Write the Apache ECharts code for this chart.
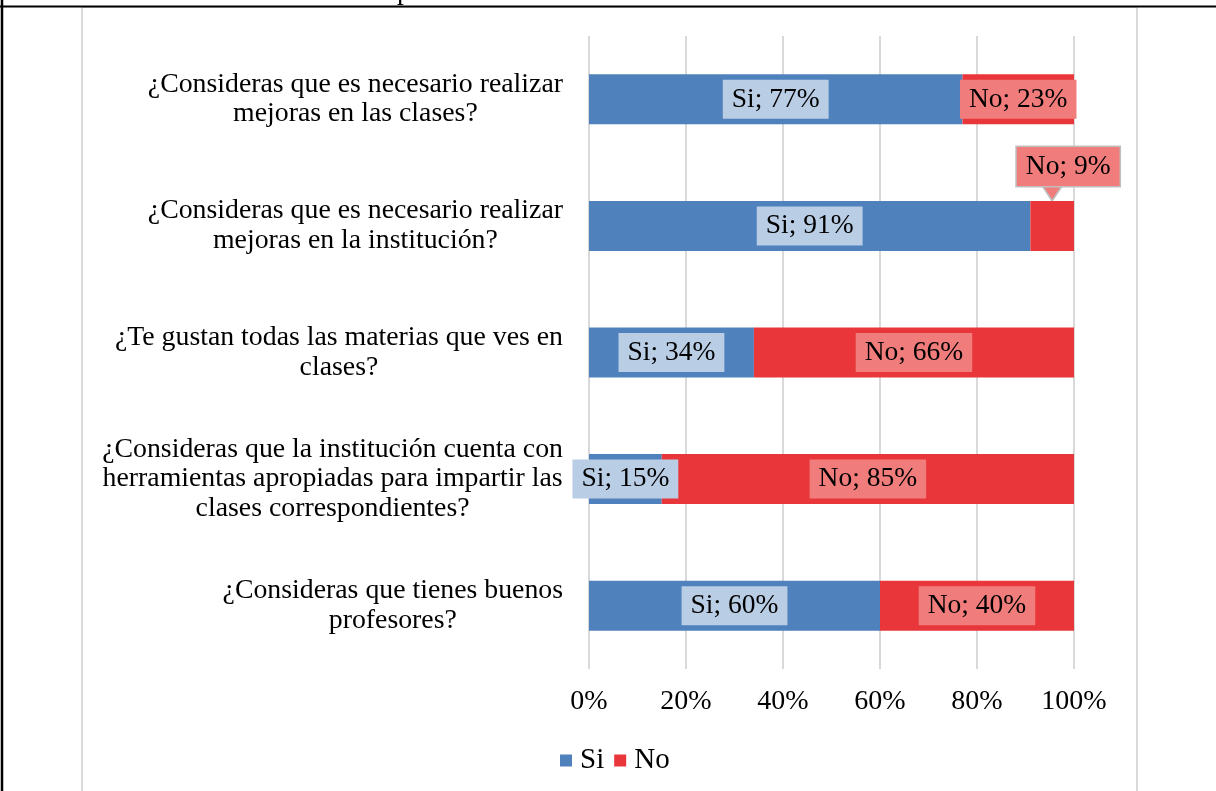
<!DOCTYPE html>
<html>
<head>
<meta charset="utf-8">
<script src="https://cdn.jsdelivr.net/npm/echarts@6/dist/echarts.min.js"></script>
<style>
html,body{margin:0;padding:0;background:#fff;}
#chart{width:1216px;height:791px;}
</style>
</head>
<body>
<div id="chart"></div>
<script>
const categories = [
  '¿Consideras que es necesario realizar\nmejoras en las clases?',
  '¿Consideras que es necesario realizar\nmejoras en la institución?',
  '¿Te gustan todas las materias que ves en\nclases?',
  '¿Consideras que la institución cuenta con\nherramientas apropiadas para impartir las\nclases correspondientes?',
  '¿Consideras que tienes buenos\nprofesores?'
];
const siValues = [77, 91, 34, 15, 60];
const noValues = [23, 9, 66, 85, 40];
const seriesNames = ['Si', 'No'];
const xTickLabels = ['0%', '20%', '40%', '60%', '80%', '100%'];
const calloutIndex = 1;

const FONT = 'Liberation Serif';
const FS = 27.5;
const labelBase = {
  show: true,
  position: 'inside',
  formatter: '{a}; {c}%',
  fontFamily: FONT,
  fontSize: FS,
  color: '#000',
  lineHeight: 30,
  padding: [5, 9, 4, 9]
};

const noData = noValues.map((v, i) => {
  if (i === calloutIndex) {
    return {
      value: v,
      label: {
        position: 'top',
        distance: 15,
        offset: [16, 0],
        borderColor: '#bfbfbf',
        borderWidth: 1.5
      }
    };
  }
  return v;
});

const chart = echarts.init(document.getElementById('chart'), null, {renderer: 'canvas'});
chart.setOption({
  animation: false,
  backgroundColor: '#fff',
  grid: {left: 589, right: 142, top: 36, bottom: 122, containLabel: false},
  legend: {
    data: seriesNames,
    left: 555,
    top: 741,
    itemWidth: 12,
    itemHeight: 12,
    itemGap: 10,
    icon: 'rect',
    textStyle: {fontFamily: FONT, fontSize: 29, color: '#000', padding: [0, 0, 0, 3]}
  },
  xAxis: {
    type: 'value',
    min: 0,
    max: 100,
    interval: 20,
    axisLine: {show: false},
    axisTick: {show: false},
    splitLine: {show: true, lineStyle: {color: '#d9d9d9', width: 2}},
    axisLabel: {
      margin: 19,
      fontFamily: FONT,
      fontSize: 28,
      color: '#000',
      formatter: v => xTickLabels[Math.round(v / 20)]
    }
  },
  yAxis: {
    type: 'category',
    inverse: true,
    data: categories,
    axisLine: {show: false},
    axisTick: {show: false},
    axisLabel: {
      interval: 0,
      margin: 26,
      formatter: v => v.split('\n').map(l => '{c|' + l + '}').join('\n'),
      rich: {
        c: {align: 'center', fontFamily: FONT, fontSize: 27.8, lineHeight: 29.5, color: '#000'}
      }
    }
  },
  series: [
    {
      name: seriesNames[0],
      type: 'bar',
      stack: 'total',
      barWidth: 50,
      itemStyle: {color: '#4f81bd'},
      label: Object.assign({}, labelBase, {backgroundColor: '#b9cde5'}),
      data: siValues
    },
    {
      name: seriesNames[1],
      type: 'bar',
      stack: 'total',
      barWidth: 50,
      itemStyle: {color: '#e8363a'},
      label: Object.assign({}, labelBase, {backgroundColor: '#f07c7c'}),
      data: noData,
      markPoint: {
        z: 1,
        silent: true,
        symbol: 'triangle',
        symbolRotate: 180,
        symbolSize: [24, 18],
        symbolOffset: [0, -34],
        itemStyle: {color: '#f07c7c', borderColor: '#bfbfbf', borderWidth: 1.5},
        label: {show: false},
        data: [{coord: [siValues[calloutIndex] + noValues[calloutIndex] / 2, categories[calloutIndex]]}]
      }
    }
  ],
  graphic: [
    {type: 'rect', shape: {x: 82, y: 7, width: 1055, height: 800}, style: {fill: 'none', stroke: '#d9d9d9', lineWidth: 2}, z: -1, silent: true},
    {type: 'line', shape: {x1: 0, y1: 6.5, x2: 1216, y2: 6.5}, style: {stroke: '#000', lineWidth: 2}, silent: true},
    {type: 'line', shape: {x1: 2, y1: 0, x2: 2, y2: 791}, style: {stroke: '#000', lineWidth: 2.5}, silent: true},
    {type: 'text', x: 397, y: -22, style: {text: 'p', fontFamily: FONT, fontSize: FS, fill: '#000'}, silent: true}
  ]
});
</script>
</body>
</html>
